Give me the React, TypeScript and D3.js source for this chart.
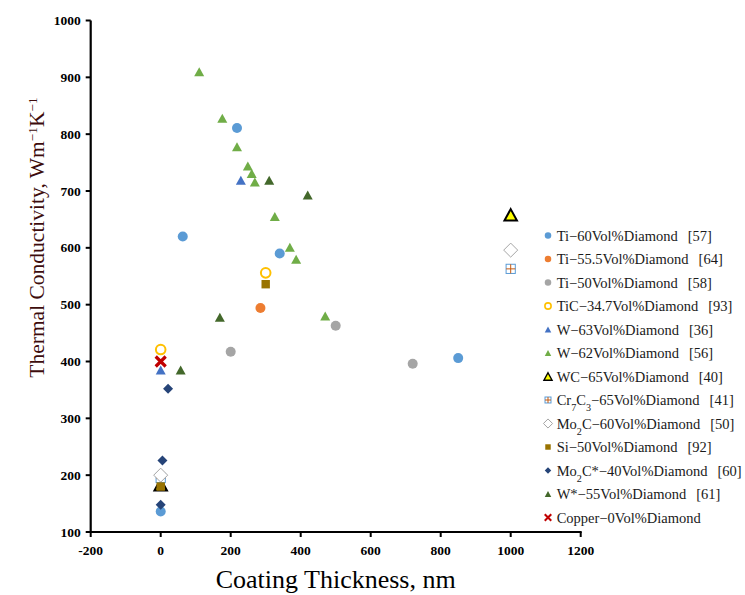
import React from "react";
import * as d3 from "d3";

const W = 745;
const H = 595;

const xTicks = [-200, 0, 200, 400, 600, 800, 1000, 1200];
const yTicks = [100, 200, 300, 400, 500, 600, 700, 800, 900, 1000];

// [thickness nm, conductivity]
const ti60 = [[0, 136], [63, 620], [218, 811], [340, 590], [850, 406]];
const ti555 = [[285, 494]];
const ti50 = [[200, 417], [500, 463], [720, 396]];
const tic = [[0, 421], [300, 556]];
const w63 = [[0, 385], [229, 719]];
const w62 = [[110, 910], [176, 828], [218, 778], [249, 744], [260, 731], [269, 716], [326, 655], [369, 601], [387, 580], [470, 480]];
const wc = [[0, 183], [1000, 658]];
const cr7c3 = [[0, 195], [1000, 563]];
const mo2c = [[0, 200], [1000, 596]];
const si = [[0, 180], [300, 536]];
const mo2cStar = [[0, 148], [5, 226], [21, 352]];
const wStar = [[57, 385], [169, 478], [310, 719], [420, 693]];
const copper = [[0, 400]];

type Kind = "circle" | "ocircle" | "tri" | "wctri" | "crsq" | "odiamond" | "square" | "diamond" | "x";

const series: { name: any; ref: string; kind: Kind; color: string; data: number[][] }[] = [
  { name: "Ti−60Vol%Diamond", ref: "[57]", kind: "circle", color: "#5B9BD5", data: ti60 },
  { name: "Ti−55.5Vol%Diamond", ref: "[64]", kind: "circle", color: "#ED7D31", data: ti555 },
  { name: "Ti−50Vol%Diamond", ref: "[58]", kind: "circle", color: "#A5A5A5", data: ti50 },
  { name: "TiC−34.7Vol%Diamond", ref: "[93]", kind: "ocircle", color: "#FFC000", data: tic },
  { name: "W−63Vol%Diamond", ref: "[36]", kind: "tri", color: "#4472C4", data: w63 },
  { name: "W−62Vol%Diamond", ref: "[56]", kind: "tri", color: "#70AD47", data: w62 },
  { name: "WC−65Vol%Diamond", ref: "[40]", kind: "wctri", color: "#FFFF00", data: wc },
  { name: "cr", ref: "[41]", kind: "crsq", color: "#5B9BD5", data: cr7c3 },
  { name: "mo", ref: "[50]", kind: "odiamond", color: "#A5A5A5", data: mo2c },
  { name: "Si−50Vol%Diamond", ref: "[92]", kind: "square", color: "#997300", data: si },
  { name: "mostar", ref: "[60]", kind: "diamond", color: "#264478", data: mo2cStar },
  { name: "W*−55Vol%Diamond", ref: "[61]", kind: "tri", color: "#43682B", data: wStar },
  { name: "Copper−0Vol%Diamond", ref: "", kind: "x", color: "#C00000", data: copper },
];

const x = d3.scaleLinear().domain([-200, 1200]).range([90.7, 580.7]);
const y = d3.scaleLinear().domain([100, 1000]).range([532, 20.5]);

function Marker({ kind, color, cx, cy, s }: { kind: Kind; color: string; cx: number; cy: number; s: number }) {
  const t = `translate(${cx},${cy})`;
  switch (kind) {
    case "circle":
      return <circle cx={cx} cy={cy} r={5 * s} fill={color} />;
    case "ocircle":
      return <circle cx={cx} cy={cy} r={4.8 * s} fill="#fff" stroke={color} strokeWidth={2 * Math.max(s, 0.8)} />;
    case "tri": {
      const w = 10 * s, h = 9 * s;
      return <path transform={t} d={`M0,${-h / 2}L${w / 2},${h / 2}L${-w / 2},${h / 2}Z`} fill={color} />;
    }
    case "wctri": {
      const w = 12.5 * s, h = 11.5 * s;
      return <path transform={t} d={`M0,${-h / 2}L${w / 2},${h / 2}L${-w / 2},${h / 2}Z`} fill={color} stroke="#000" strokeWidth={2 * Math.max(s, 0.7)} strokeLinejoin="miter" />;
    }
    case "crsq": {
      const r = 4.6 * s;
      return (
        <g transform={t}>
          <rect x={-r} y={-r} width={2 * r} height={2 * r} fill="#fff" stroke={color} strokeWidth={1} />
          <path d={`M0,${-r}V${r}M${-r},0H${r}`} stroke="#C55A11" strokeWidth={1} />
        </g>
      );
    }
    case "odiamond": {
      const r = 7 * s;
      return <path transform={t} d={`M0,${-r}L${r},0L0,${r}L${-r},0Z`} fill="#fff" stroke={color} strokeWidth={1} />;
    }
    case "square": {
      const r = 4.2 * s;
      return <rect x={cx - r} y={cy - r} width={2 * r} height={2 * r} fill={color} />;
    }
    case "diamond": {
      const r = 5 * s;
      return <path transform={t} d={`M0,${-r}L${r},0L0,${r}L${-r},0Z`} fill={color} />;
    }
    case "x": {
      const r = 5 * s;
      return <path transform={t} d={`M${-r},${-r}L${r},${r}M${r},${-r}L${-r},${r}`} stroke={color} strokeWidth={3.2 * s} />;
    }
  }
  return null;
}

function LegendLabel({ name }: { name: string }) {
  const sub = { baselineShift: "sub", fontSize: "0.7em" } as any;
  if (name === "cr")
    return (
      <>
        Cr<tspan style={sub}>7</tspan><tspan>C</tspan><tspan style={sub}>3</tspan><tspan>−65Vol%Diamond</tspan>
      </>
    );
  if (name === "mo")
    return (
      <>
        Mo<tspan style={sub}>2</tspan><tspan>C−60Vol%Diamond</tspan>
      </>
    );
  if (name === "mostar")
    return (
      <>
        Mo<tspan style={sub}>2</tspan><tspan>C*−40Vol%Diamond</tspan>
      </>
    );
  return <>{name}</>;
}

export default function App() {
  const legendY0 = 235.5;
  const legendStep = 23.5;
  const tickFont = "'Liberation Serif', 'Times New Roman', serif";
  const sup = { baselineShift: "super", fontSize: "0.62em" } as any;
  return (
    <div style={{ position: "absolute", left: 0, top: 0 }}>
      <svg width={W} height={H} viewBox={`0 0 ${W} ${H}`} style={{ display: "block", background: "#fff" }}>
        <rect width={W} height={H} fill="#fff" />
        {/* axes */}
        <line x1={x(-200)} x2={x(-200)} y1={y(1000)} y2={y(100)} stroke="#000" strokeWidth={2.2} />
        <line x1={x(-200) - 1} x2={x(1200) + 1} y1={y(100)} y2={y(100)} stroke="#000" strokeWidth={2.2} />
        {yTicks.map((t) => (
          <g key={"yt" + t}>
            <line x1={x(-200) - 5} x2={x(-200)} y1={y(t)} y2={y(t)} stroke="#000" strokeWidth={2} />
            <text x={x(-200) - 10} y={y(t) + 4.5} textAnchor="end" fontFamily={tickFont} fontWeight="bold" fontSize={13.5} fill="#000">
              {t}
            </text>
          </g>
        ))}
        {xTicks.map((t) => (
          <g key={"xt" + t}>
            <line x1={x(t)} x2={x(t)} y1={y(100)} y2={y(100) + 5} stroke="#000" strokeWidth={2} />
            <text x={x(t)} y={y(100) + 23} textAnchor="middle" fontFamily={tickFont} fontWeight="bold" fontSize={13.5} fill="#000">
              {t}
            </text>
          </g>
        ))}
        {/* titles */}
        <text x={335.7} y={588} textAnchor="middle" fontFamily={tickFont} fontSize={26} fill="#000">
          Coating Thickness, nm
        </text>
        <text transform={`translate(44,237.5) rotate(-90)`} textAnchor="middle" fontFamily={tickFont} fontSize={21.5} fill="#3d0c0c">
          Thermal Conductivity, Wm<tspan style={sup}>−1</tspan><tspan>K</tspan><tspan style={sup}>−1</tspan>
        </text>
        {/* points */}
        {series.map((s, i) => (
          <g key={"s" + i}>
            {s.data.map((d, j) => (
              <Marker key={j} kind={s.kind} color={s.color} cx={x(d[0])} cy={y(d[1])} s={1} />
            ))}
          </g>
        ))}
        {/* legend */}
        {series.map((s, i) => {
          const cy = legendY0 + i * legendStep;
          return (
            <g key={"l" + i}>
              <Marker kind={s.kind} color={s.color} cx={548} cy={cy} s={0.65} />
              <text x={556.7} y={cy + 5} fontFamily={tickFont} fontSize={14.5} fill="#1a1a1a" style={{ whiteSpace: "pre" }}>
                <LegendLabel name={s.name} />
                {s.ref ? <tspan dx={10}>{s.ref}</tspan> : null}
              </text>
            </g>
          );
        })}
      </svg>
    </div>
  );
}
